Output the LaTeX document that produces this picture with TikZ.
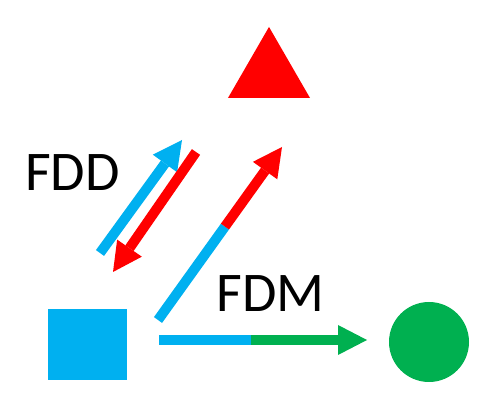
\documentclass[tikz,border=0pt]{standalone}
\usepackage{fontspec}
\setmainfont{Carlito}
\usetikzlibrary{positioning, calc, shapes.geometric, arrows.meta}
\definecolor{skyblue}{HTML}{00B0F0}
\definecolor{brightred}{HTML}{FF0000}
\definecolor{leafgreen}{HTML}{00B050}

\begin{document}
\begin{tikzpicture}[
        x=1pt, y=-1pt,
        bar/.style={line width=10pt},
        arrow/.style={line width=10pt, -{Triangle[length=29pt, width=30pt, line width=0pt]}},
        lbl/.style={font=\fontsize{56}{60}\selectfont, inner sep=0pt, anchor=base},
    ]
    \useasboundingbox (0,0) rectangle (488,414);

    % ===== Stations =====
    \node[rectangle, fill=skyblue, minimum width=79pt, minimum height=71pt, inner sep=0pt] (SQ) at (87.5,344.5) {};
    \node[regular polygon, regular polygon sides=3, fill=brightred, minimum size=94.7pt, inner sep=0pt] (TRI) at (269,74.3) {};
    \node[circle, fill=leafgreen, minimum size=80pt, inner sep=0pt] (CIR) at (429,342) {};

    % ===== FDD pair =====
    \coordinate (UPs) at (100,253);
    \coordinate (UPe) at (182,140);
    \coordinate (DNs) at (196,152);
    \coordinate (DNe) at (113,272);
    \draw[arrow, skyblue] (UPs) -- (UPe);
    \draw[arrow, brightred] (DNs) -- (DNe);
    \node[lbl] (FDD) at (72.5,191) {FDD};

    % ===== FDM: square -> triangle =====
    \coordinate (Ts) at (158,320);
    \coordinate (Tm) at ($(Ts)!0.54!(282,147)$);
    \coordinate (Te) at (282,147);
    \draw[bar, skyblue] (Ts) -- (Tm);
    \draw[arrow, brightred] (Tm) -- (Te);

    % ===== FDM: square -> circle =====
    \coordinate (Cs) at (159,340);
    \coordinate (Cm) at (251,340);
    \coordinate (Ce) at (367,340);
    \draw[bar, skyblue] (Cs) -- (Cm);
    \draw[arrow, leafgreen] (Cm) -- (Ce);
    \node[lbl] (FDM) at (270.5,312) {FDM};

\end{tikzpicture}
\end{document}
